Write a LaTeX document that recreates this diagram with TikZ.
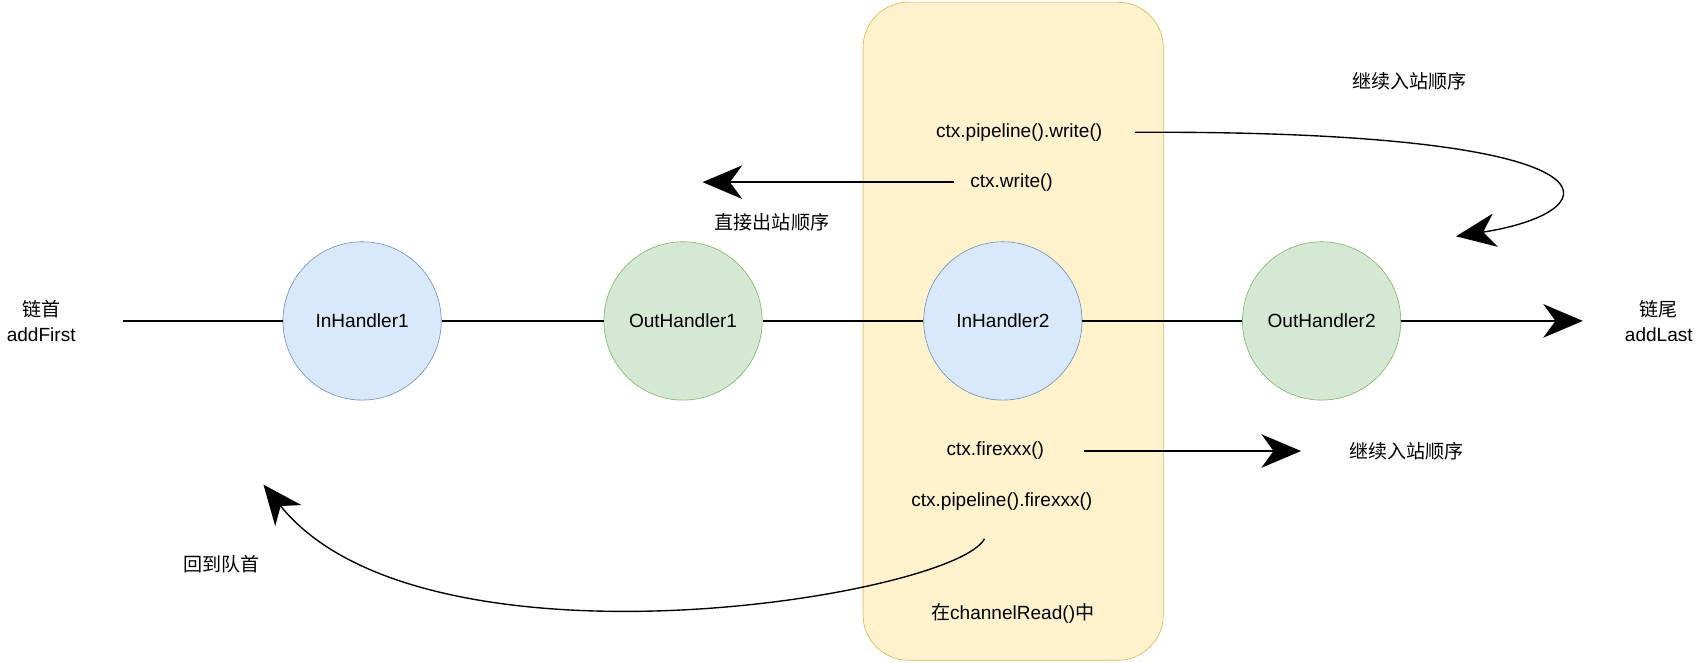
\documentclass[tikz,border=0pt]{standalone}
\usepackage{fontspec}
\setmainfont{Liberation Sans}
\newfontfamily\cjk{Noto Sans CJK SC}
\usetikzlibrary{arrows.meta}
\begin{document}
\begin{tikzpicture}[x=0.025cm,y=-0.025cm,
  every node/.style={font=\fontsize{12.5}{16}\selectfont,align=center},
  hb/.style={circle,minimum size=3.65cm,inner sep=0pt,draw=blue!45!black!60,draw={rgb,255:red,108;green,142;blue,191},fill={rgb,255:red,218;green,232;blue,252}},
  hg/.style={circle,minimum size=3.65cm,inner sep=0pt,draw={rgb,255:red,130;green,179;blue,102},fill={rgb,255:red,213;green,232;blue,212}},
  ar/.style={-{Stealth[length=26pt,width=22pt,inset=8pt]},line width=0.9pt},
  ln/.style={line width=0.9pt}]
\useasboundingbox (0,0) rectangle (1568,611);
\draw[fill={rgb,255:red,255;green,242;blue,204},draw={rgb,255:red,214;green,182;blue,86},rounded corners=1.05cm] (796,2) rectangle (1073,609);
\node[hb] (i1) at (334,296) {InHandler1};
\node[hg] (o1) at (630,296) {OutHandler1};
\node[hb] (i2) at (925,296) {InHandler2};
\node[hg] (o2) at (1219,296) {OutHandler2};
\node (first) at (38,296) {{\cjk 链首}\\addFirst};
\node (last) at (1530,296) {{\cjk 链尾}\\addLast};
\coordinate (s) at (113,296);
\coordinate (e) at (1460,296);
\draw[ln] (s) -- (i1) -- (o1) -- (i2) -- (o2);
\draw[ar] (o2) -- (e);
\node (pw) at (940,122) {ctx.pipeline().write()};
\node (w) at (933,168) {ctx.write()};
\node (t1) at (1300,75) {\cjk 继续入站顺序};
\node (t2) at (712,205) {\cjk 直接出站顺序};
\node (f) at (918,416) {ctx.firexxx()};
\node (t3) at (1297,416) {\cjk 继续入站顺序};
\node (pf) at (924,463) {ctx.pipeline().firexxx()};
\node (t4) at (204,520) {\cjk 回到队首};
\node (cr) at (934,566) {{\cjk 在}channelRead(){\cjk 中}};
\coordinate (a1) at (1047,122); \coordinate (a1e) at (1343,218);
\coordinate (a2) at (880,168); \coordinate (a2e) at (648,168);
\coordinate (a3) at (1000,416); \coordinate (a3e) at (1200,416);
\coordinate (a4) at (908,497); \coordinate (a4e) at (243,447);
\draw[ar] (a1) .. controls (1510,120) and (1490,195) .. (a1e);
\draw[ar] (a2) -- (a2e);
\draw[ar] (a3) -- (a3e);
\draw[ar] (a4) .. controls (880,550) and (390,630) .. (a4e);
\end{tikzpicture}
\end{document}
